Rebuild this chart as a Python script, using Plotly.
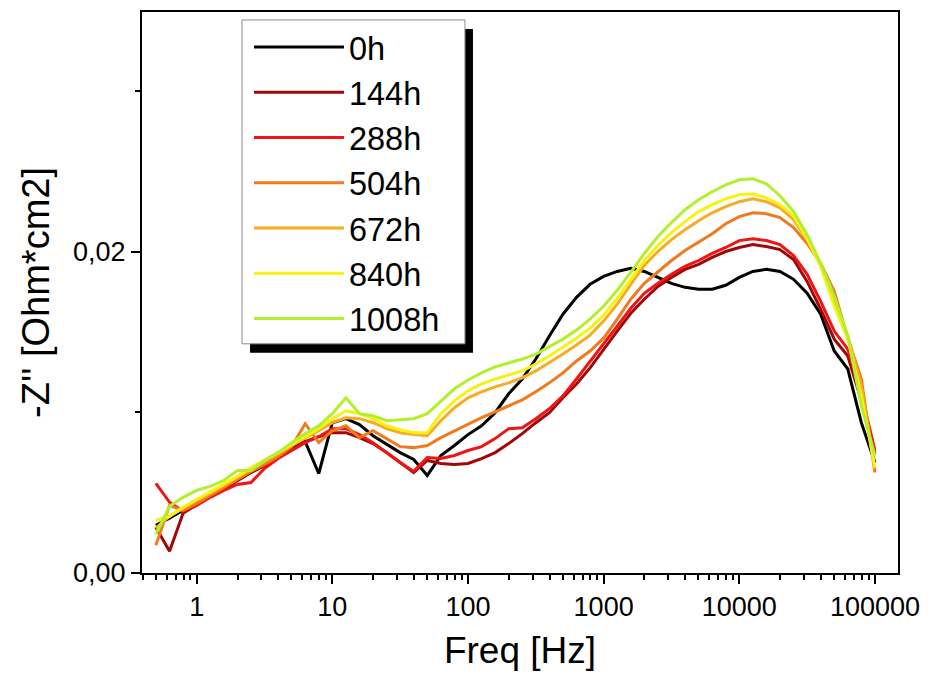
import plotly.graph_objects as go

# Frequency grid [Hz]
freq = [0.5, 0.631, 0.794, 1.0, 1.259, 1.585, 1.995, 2.512, 3.162, 3.981, 5.012, 6.31, 7.943,
        10.0, 12.59, 15.85, 19.95, 25.12, 31.62, 39.81, 50.12, 63.1, 79.43,
        100.0, 125.9, 158.5, 199.5, 251.2, 316.2, 398.1, 501.2, 631.0, 794.3,
        1000.0, 1259.0, 1585.0, 1995.0, 2512.0, 3162.0, 3981.0, 5012.0, 6310.0, 7943.0,
        10000.0, 12589.0, 15849.0, 19953.0, 25119.0, 31623.0, 39811.0, 50119.0, 63096.0, 79433.0,
        100000.0]

# -Z'' [Ohm*cm2]
z_0h = [0.00297, 0.00341, 0.00390, 0.00433, 0.00477, 0.00526, 0.00576, 0.00625, 0.00669, 0.00718, 0.00774, 0.00817, 0.00619,
        0.00935, 0.00960, 0.00923, 0.00854, 0.00799, 0.00749, 0.00706, 0.00607, 0.00731, 0.00793,
        0.00861, 0.00916, 0.00997, 0.01115, 0.01207, 0.01331, 0.01474, 0.01610, 0.01715, 0.01796,
        0.01845, 0.01876, 0.01895, 0.01876, 0.01839, 0.01802, 0.01777, 0.01765, 0.01765, 0.01790,
        0.01839, 0.01876, 0.01889, 0.01876, 0.01827, 0.01740, 0.01610, 0.01381, 0.01269, 0.00935,
        0.00687]
z_144h = [0.00285, 0.00136, 0.00372, 0.00427, 0.00477, 0.00526, 0.00576, 0.00625, 0.00669, 0.00718, 0.00768, 0.00817, 0.00848,
          0.00873, 0.00873, 0.00842, 0.00805, 0.00749, 0.00687, 0.00625, 0.00700, 0.00681, 0.00675,
          0.00681, 0.00712, 0.00749, 0.00805, 0.00867, 0.00935, 0.00997, 0.01090, 0.01176, 0.01276,
          0.01393, 0.01505, 0.01616, 0.01703, 0.01783, 0.01839, 0.01889, 0.01920, 0.01963, 0.02000,
          0.02025, 0.02043, 0.02031, 0.02012, 0.01950, 0.01814, 0.01641, 0.01455, 0.01350, 0.01071,
          0.00743]
z_288h = [0.00557, 0.00440, 0.00384, 0.00421, 0.00471, 0.00514, 0.00551, 0.00563, 0.00650, 0.00712, 0.00762, 0.00811, 0.00848,
          0.00898, 0.00898, 0.00861, 0.00811, 0.00749, 0.00687, 0.00632, 0.00718, 0.00712, 0.00731,
          0.00762, 0.00786, 0.00836, 0.00898, 0.00904, 0.00960, 0.01022, 0.01102, 0.01207, 0.01319,
          0.01424, 0.01536, 0.01647, 0.01740, 0.01802, 0.01858, 0.01907, 0.01944, 0.01988, 0.02025,
          0.02068, 0.02080, 0.02068, 0.02043, 0.01975, 0.01858, 0.01690, 0.01505, 0.01393, 0.01115,
          0.00762]
z_504h = [0.00173, 0.00421, 0.00390, 0.00433, 0.00483, 0.00532, 0.00582, 0.00632, 0.00675, 0.00725, 0.00787, 0.00929, 0.00811,
          0.00885, 0.00916, 0.00842, 0.00885, 0.00836, 0.00786, 0.00780, 0.00793, 0.00842, 0.00885,
          0.00923, 0.00966, 0.01003, 0.01040, 0.01077, 0.01127, 0.01183, 0.01245, 0.01319, 0.01381,
          0.01461, 0.01579, 0.01703, 0.01802, 0.01876, 0.01944, 0.02006, 0.02056, 0.02111, 0.02173,
          0.02217, 0.02241, 0.02235, 0.02211, 0.02149, 0.02050, 0.01926, 0.01752, 0.01461, 0.01207,
          0.00625]
z_672h = [0.00279, 0.00353, 0.00402, 0.00452, 0.00495, 0.00545, 0.00594, 0.00644, 0.00693, 0.00743, 0.00793, 0.00842, 0.00885,
          0.00935, 0.00966, 0.00960, 0.00935, 0.00898, 0.00873, 0.00861, 0.00854, 0.00947, 0.01028,
          0.01090, 0.01127, 0.01158, 0.01183, 0.01214, 0.01257, 0.01307, 0.01362, 0.01418, 0.01480,
          0.01567, 0.01672, 0.01796, 0.01913, 0.02000, 0.02074, 0.02136, 0.02192, 0.02241, 0.02279,
          0.02310, 0.02328, 0.02310, 0.02272, 0.02198, 0.02074, 0.01913, 0.01690, 0.01474, 0.01164,
          0.00650]
z_840h = [0.00328, 0.00353, 0.00409, 0.00458, 0.00502, 0.00551, 0.00601, 0.00656, 0.00700, 0.00749, 0.00799, 0.00848, 0.00898,
          0.00960, 0.01009, 0.00991, 0.00960, 0.00916, 0.00892, 0.00873, 0.00873, 0.00991, 0.01071,
          0.01133, 0.01176, 0.01207, 0.01232, 0.01257, 0.01300, 0.01350, 0.01406, 0.01461, 0.01523,
          0.01604, 0.01709, 0.01827, 0.01944, 0.02037, 0.02118, 0.02186, 0.02248, 0.02291, 0.02328,
          0.02353, 0.02359, 0.02334, 0.02291, 0.02223, 0.02080, 0.01907, 0.01659, 0.01455, 0.01102,
          0.00656]
z_1008h = [0.00241, 0.00415, 0.00471, 0.00514, 0.00539, 0.00576, 0.00638, 0.00638, 0.00700, 0.00749, 0.00811, 0.00867, 0.00916,
           0.00991, 0.01090, 0.00991, 0.00978, 0.00947, 0.00954, 0.00960, 0.00991, 0.01071, 0.01146,
           0.01201, 0.01245, 0.01282, 0.01307, 0.01331, 0.01362, 0.01406, 0.01455, 0.01511, 0.01579,
           0.01659, 0.01759, 0.01870, 0.01988, 0.02093, 0.02180, 0.02260, 0.02322, 0.02372, 0.02415,
           0.02446, 0.02452, 0.02421, 0.02347, 0.02248, 0.02105, 0.01926, 0.01721, 0.01474, 0.01040,
           0.00731]

series_names = ["0h", "144h", "288h", "504h", "672h", "840h", "1008h"]
series_values = [z_0h, z_144h, z_288h, z_504h, z_672h, z_840h, z_1008h]
series_colors = ["#000000", "#A00808", "#F01414", "#F27A1E", "#F8AC22", "#F8F212", "#B2F02C"]

x_tickvals = [1, 10, 100, 1000, 10000, 100000]
x_ticktext = ["1", "10", "100", "1000", "10000", "100000"]
x_minor = [0.4, 0.5, 0.6, 0.7, 0.8, 0.9] + [m * 10 ** d for d in range(0, 5) for m in range(2, 10)]
y_tickvals = [0.0, 0.02]
y_ticktext = ["0,00", "0,02"]
y_minor = [0.01, 0.03]

FONT = "Arial, Liberation Sans, sans-serif"

fig = go.Figure()
for name, vals, col in zip(series_names, series_values, series_colors):
    assert len(vals) == len(freq), name
    fig.add_trace(go.Scatter(x=freq, y=vals, mode="lines", name=name,
                             line=dict(color=col, width=3)))

# legend frame with drop shadow (paper coordinates)
fig.add_shape(type="rect", xref="paper", yref="paper", x0=0.1429, x1=0.4378, y0=0.3925, y1=0.9698,
              fillcolor="black", line=dict(width=0), layer="above")
fig.add_shape(type="rect", xref="paper", yref="paper", x0=0.1323, x1=0.4272, y0=0.4085, y1=0.9858,
              fillcolor="white", line=dict(color="#8a8a8a", width=1), layer="above")

fig.update_layout(
    width=940, height=678,
    margin=dict(l=142, r=42, t=10, b=105),
    paper_bgcolor="white", plot_bgcolor="white",
    font=dict(family=FONT, color="black"),
    showlegend=True,
    legend=dict(x=0.1415, y=0.987, xanchor="left", yanchor="top",
                bgcolor="rgba(0,0,0,0)", borderwidth=0,
                font=dict(size=32.5, family=FONT, color="black"),
                itemwidth=90, tracegroupgap=0),
    xaxis=dict(type="log", range=[-0.403, 5.17],
               tickmode="array", tickvals=x_tickvals, ticktext=x_ticktext,
               ticks="outside", ticklen=9, tickwidth=2, tickcolor="black",
               minor=dict(tickmode="array", tickvals=x_minor, ticks="outside", ticklen=5,
                          tickwidth=1.5, tickcolor="black", showgrid=False),
               showline=True, linewidth=2, linecolor="black", mirror=True,
               showgrid=False, zeroline=False,
               tickfont=dict(size=27, family=FONT, color="black"),
               title=dict(text="Freq [Hz]", font=dict(size=37, family=FONT, color="black"), standoff=16)),
    yaxis=dict(range=[0, 0.0349],
               tickmode="array", tickvals=y_tickvals, ticktext=y_ticktext,
               ticks="outside", ticklen=9, tickwidth=2, tickcolor="black",
               minor=dict(tickmode="array", tickvals=y_minor, ticks="outside", ticklen=5,
                          tickwidth=1.5, tickcolor="black", showgrid=False),
               showline=True, linewidth=2, linecolor="black", mirror=True,
               showgrid=False, zeroline=False,
               tickfont=dict(size=27, family=FONT, color="black"),
               title=dict(text="-Z'' [Ohm*cm2]", font=dict(size=38, family=FONT, color="black"), standoff=12)),
)

fig.write_html("out.html")
